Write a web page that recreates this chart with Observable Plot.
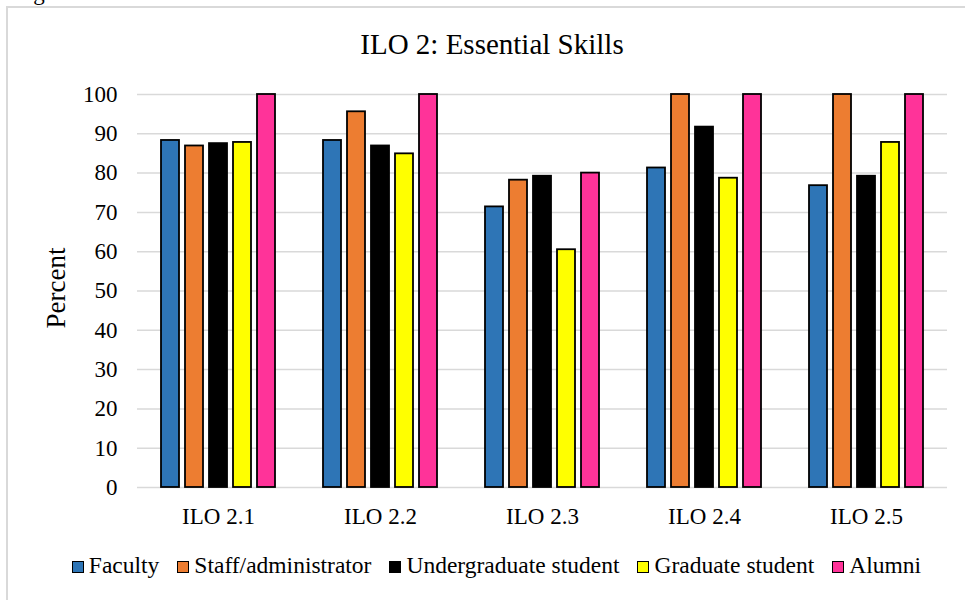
<!DOCTYPE html>
<html>
<head>
<meta charset="utf-8">
<script src="https://cdn.jsdelivr.net/npm/d3@7"></script>
<script src="https://cdn.jsdelivr.net/npm/@observablehq/plot@0.6"></script>
<style>
  html, body { margin: 0; padding: 0; background: #fff; overflow: hidden; }
  body { width: 965px; height: 600px; position: relative; font-family: "Liberation Serif", "Times New Roman", serif; color: #000; }
  #frame { position: absolute; left: 6px; top: 6px; width: 980px; height: 620px; border-top: 2px solid #d9d9d9; border-left: 2px solid #d9d9d9; box-sizing: border-box; }
  #fig { position: absolute; left: 14px; top: -19.3px; font-size: 23px; line-height: 23px; white-space: nowrap; }
  #title { position: absolute; left: 0; top: 30px; width: 984px; text-align: center; font-size: 29px; line-height: 29px; white-space: nowrap; }
  #ylabel { position: absolute; left: 56px; top: 288px; transform: translate(-50%, -50%) rotate(-90deg); font-size: 27px; line-height: 27px; white-space: nowrap; }
  #chart { position: absolute; left: 0; top: 70px; }
  #chart svg, #chart svg text { font-family: "Liberation Serif", "Times New Roman", serif; }
  #legend { position: absolute; left: 0; top: 553.5px; width: 993px; display: flex; justify-content: center; align-items: baseline; gap: 18px; font-size: 23.5px; line-height: 23.5px; white-space: nowrap; }
  .item { display: inline-flex; align-items: baseline; }
  .sw { display: inline-block; width: 12px; height: 12px; border: 1.5px solid #000; box-sizing: border-box; margin-right: 5px; }
</style>
</head>
<body>
<div id="fig">Figure</div>
<div id="frame"></div>
<div id="title"></div>
<div id="ylabel"></div>
<div id="chart"></div>
<div id="legend"></div>
<script>
const titleText = "ILO 2: Essential Skills";
const yLabel = "Percent";
const groups = ["ILO 2.1", "ILO 2.2", "ILO 2.3", "ILO 2.4", "ILO 2.5"];
const seriesNames = ["Faculty", "Staff/administrator", "Undergraduate student", "Graduate student", "Alumni"];
const seriesColors = ["#2E75B6", "#ED7D31", "#000000", "#FFFF00", "#FF3399"];
const faculty   = [88.3, 88.3, 71.4, 81.3, 76.8];
const staff     = [86.9, 95.6, 78.2, 100, 100];
const undergrad = [87.5, 86.9, 79.2, 91.7, 79.2];
const graduate  = [87.8, 84.9, 60.5, 78.7, 87.8];
const alumni    = [100, 100, 80, 100, 100];
const yTicks = [0, 10, 20, 30, 40, 50, 60, 70, 80, 90, 100];

const seriesValues = [faculty, staff, undergrad, graduate, alumni];
const data = [];
groups.forEach((g, gi) => {
  seriesNames.forEach((s, si) => {
    data.push({group: g, series: s, value: seriesValues[si][gi]});
  });
});

document.getElementById("title").textContent = titleText;
document.getElementById("ylabel").textContent = yLabel;

const legend = document.getElementById("legend");
seriesNames.forEach((s, i) => {
  const item = document.createElement("span");
  item.className = "item";
  const sw = document.createElement("span");
  sw.className = "sw";
  sw.style.background = seriesColors[i];
  item.appendChild(sw);
  item.appendChild(document.createTextNode(s));
  legend.appendChild(item);
});

const chart = Plot.plot({
  width: 965,
  height: 470,
  marginTop: 24,
  marginBottom: 53,
  marginLeft: 135,
  marginRight: 17,
  style: {fontFamily: '"Liberation Serif", "Times New Roman", serif', fontSize: "23px", color: "#000", background: "transparent", overflow: "visible"},
  facet: {data: data, x: "group", marginTop: 24, marginBottom: 53, marginLeft: 135, marginRight: 17},
  fx: {domain: groups, paddingInner: 0, paddingOuter: 0, axis: "bottom", tickSize: 0, tickPadding: 20, label: null},
  x: {domain: seriesNames, paddingInner: 0.24, paddingOuter: 0.872, axis: null},
  y: {domain: [0, 100], ticks: yTicks, tickSize: 0, tickPadding: 20, label: null, tickFormat: d => String(d)},
  color: {domain: seriesNames, range: seriesColors},
  marks: [
    Plot.ruleY(yTicks, {stroke: "#d9d9d9", strokeWidth: 1.5}),
    Plot.barY(data, {x: "series", y: "value", fill: "series", stroke: "#000", strokeWidth: 1.8})
  ]
});
document.getElementById("chart").appendChild(chart);
</script>
</body>
</html>
